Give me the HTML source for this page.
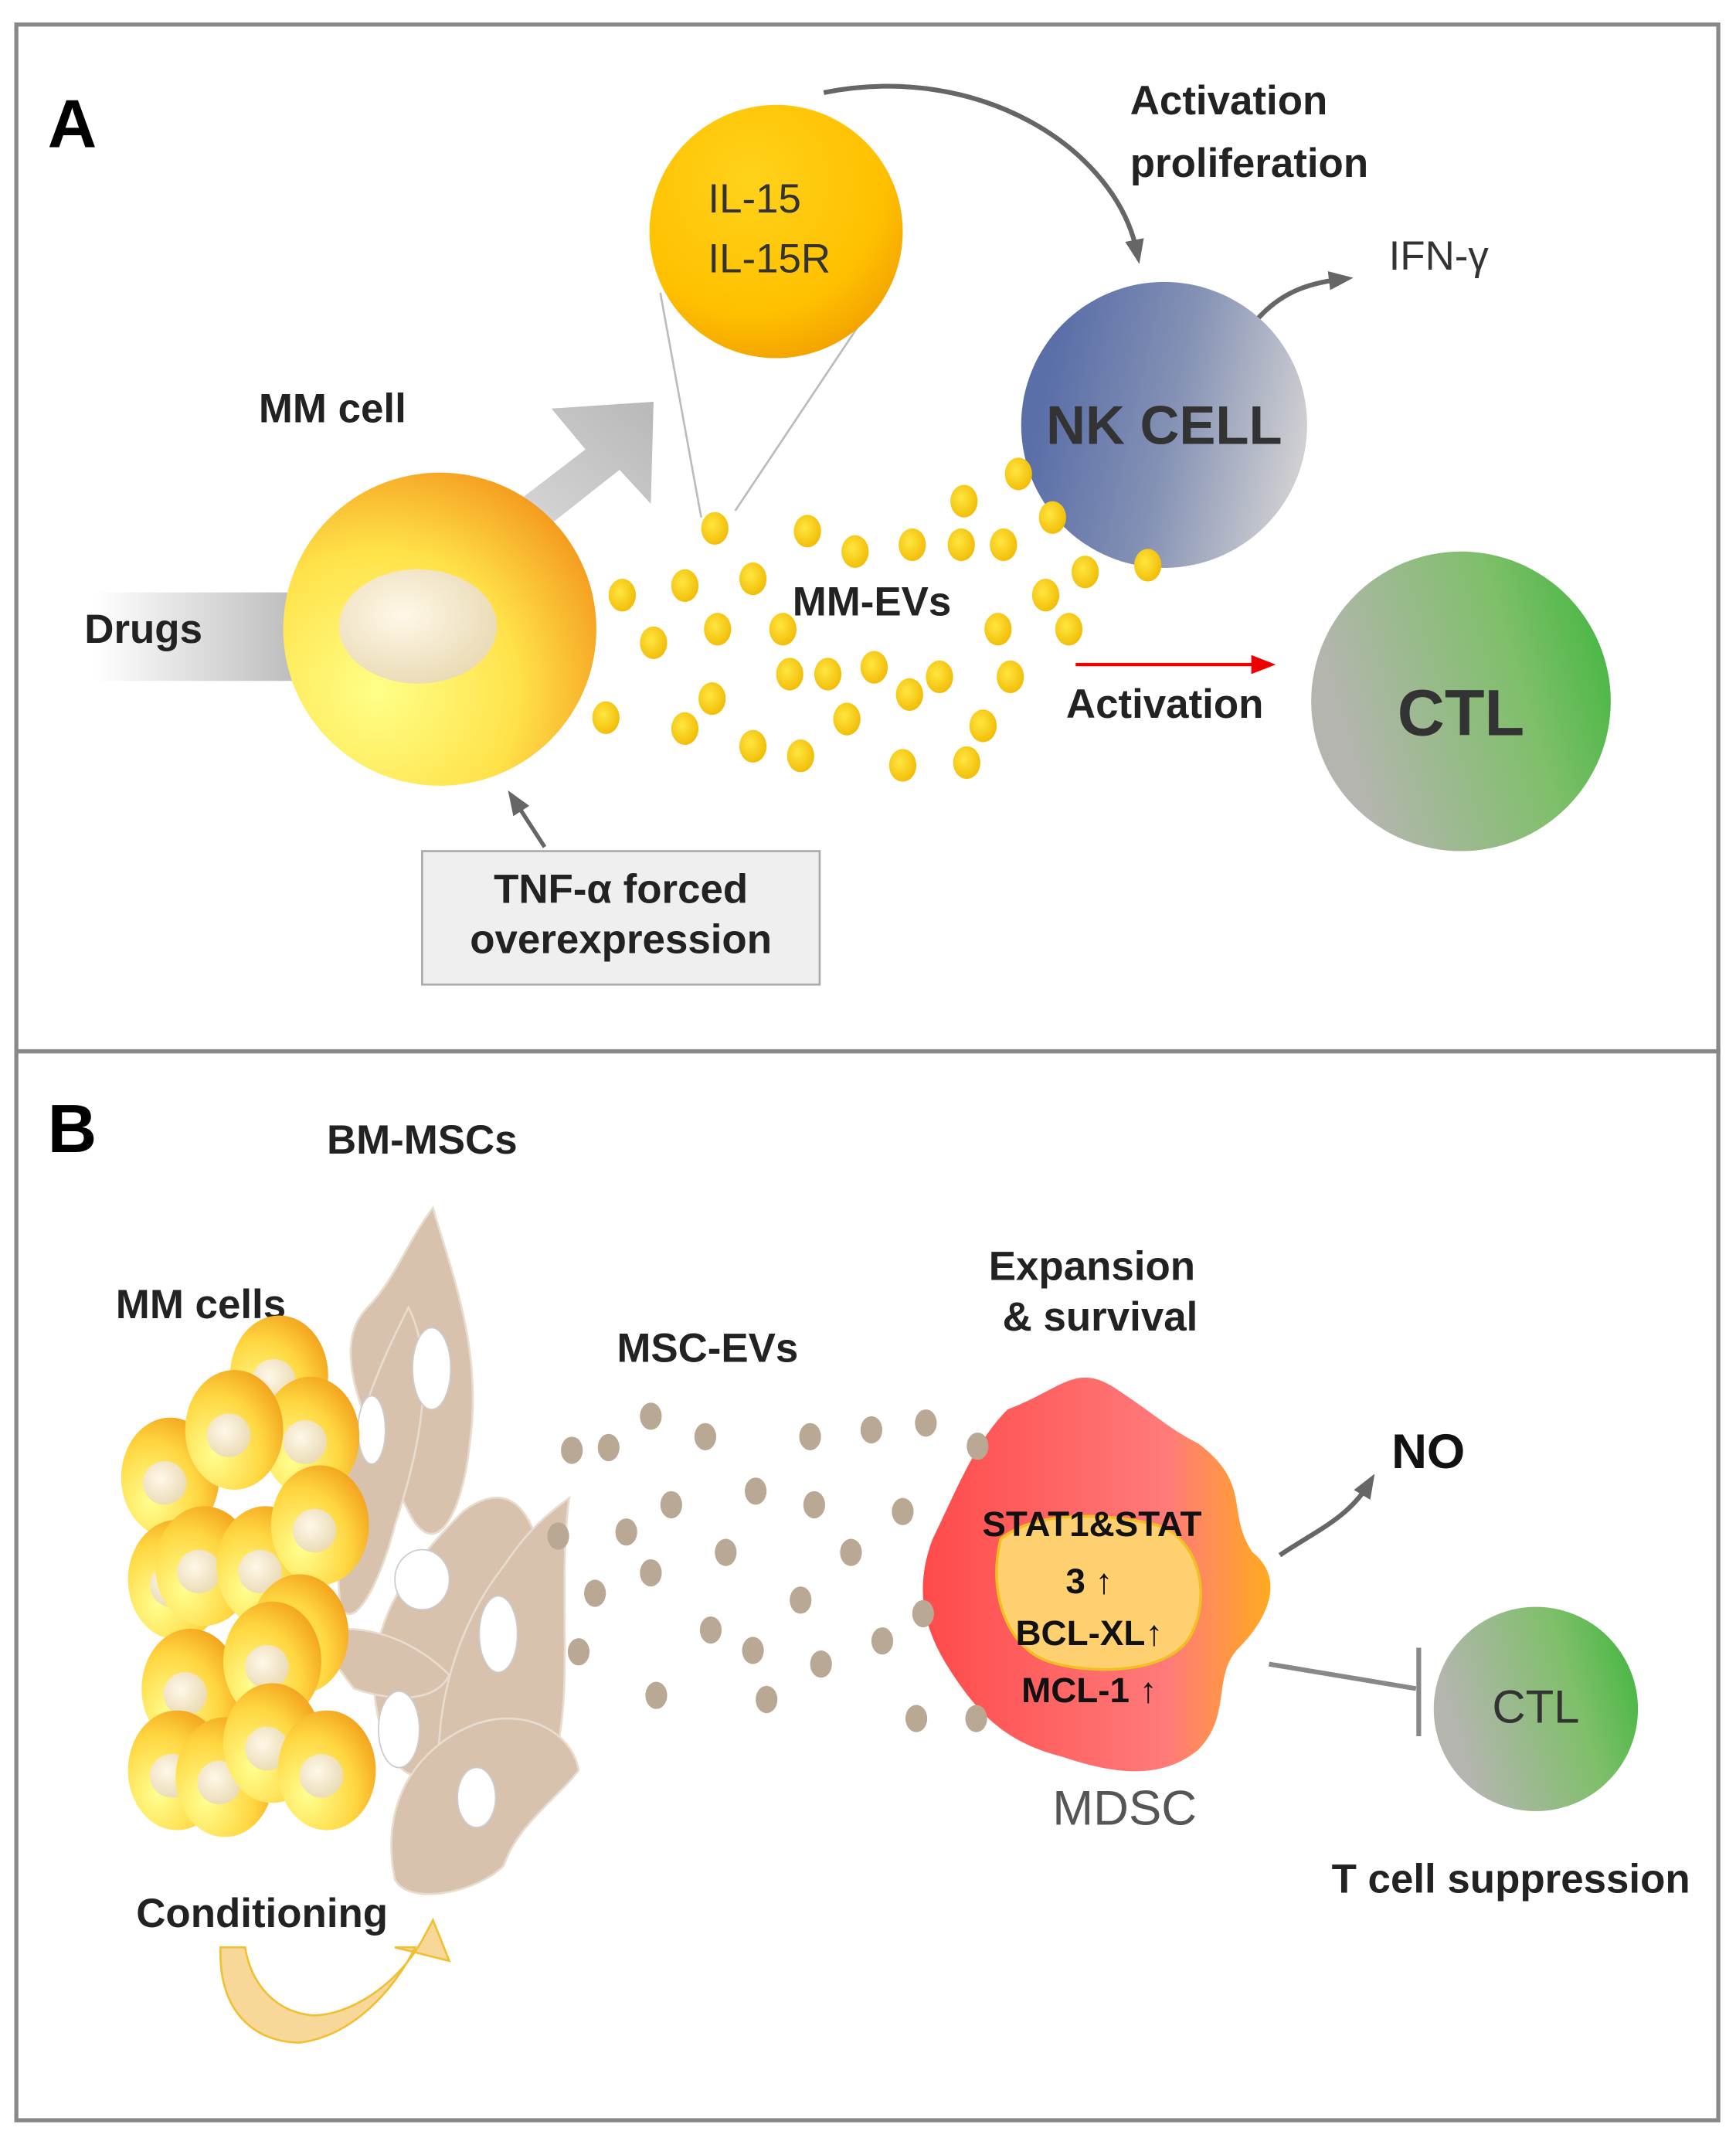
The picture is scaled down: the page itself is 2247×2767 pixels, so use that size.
<!DOCTYPE html>
<html><head><meta charset="utf-8"><style>
html,body{margin:0;padding:0;background:#fff}
svg{display:block}
text{font-family:"Liberation Sans","DejaVu Sans",sans-serif}
</style></head><body>
<svg width="2247" height="2767" viewBox="0 0 1275 1570" xmlns="http://www.w3.org/2000/svg">
<defs>
<radialGradient id="il" cx="0.4" cy="0.3" r="0.75"><stop offset="0" stop-color="#ffd21a"/><stop offset="0.7" stop-color="#ffc000"/><stop offset="1" stop-color="#f2a000"/></radialGradient>
<linearGradient id="nk" x1="0.1" y1="0.3" x2="1" y2="0.5"><stop offset="0" stop-color="#5a6ea8"/><stop offset="0.5" stop-color="#8592b5"/><stop offset="1" stop-color="#cfcfd2"/></linearGradient>
<linearGradient id="ctl" x1="0" y1="0.3" x2="1" y2="0"><stop offset="0" stop-color="#b5b5b0"/><stop offset="0.6" stop-color="#7fbf6a"/><stop offset="1" stop-color="#3ab53a"/></linearGradient>
<radialGradient id="mm" cx="0.3" cy="0.7" r="0.9"><stop offset="0" stop-color="#ffff88"/><stop offset="0.5" stop-color="#ffe24a"/><stop offset="0.85" stop-color="#f5a020"/><stop offset="1" stop-color="#e88a10"/></radialGradient>
<radialGradient id="nuc" cx="0.4" cy="0.4" r="0.7"><stop offset="0" stop-color="#fff8e8"/><stop offset="1" stop-color="#e8d8b0"/></radialGradient>
<linearGradient id="drug" x1="0" x2="1"><stop offset="0" stop-color="#fff"/><stop offset="1" stop-color="#bbb"/></linearGradient>
<linearGradient id="bigarr" x1="0" y1="1" x2="1" y2="0"><stop offset="0" stop-color="#e0e0e0"/><stop offset="1" stop-color="#b8b8b8"/></linearGradient>
<radialGradient id="dot" cx="0.4" cy="0.4" r="0.7"><stop offset="0" stop-color="#ffe640"/><stop offset="1" stop-color="#f0b800"/></radialGradient>
<radialGradient id="cell" cx="0.3" cy="0.7" r="0.9"><stop offset="0" stop-color="#ffff90"/><stop offset="0.55" stop-color="#ffd640"/><stop offset="1" stop-color="#ee9010"/></radialGradient>
<linearGradient id="md" x1="0" x2="1"><stop offset="0" stop-color="#ff4a4a"/><stop offset="0.7" stop-color="#ff7a7a"/><stop offset="1" stop-color="#ffaa20"/></linearGradient>
<marker id="ag2" markerWidth="18" markerHeight="18" refX="9" refY="9" orient="auto" markerUnits="userSpaceOnUse"><path d="M0,2 L18,9 L0,16 z" fill="#666"/></marker>
<marker id="ar" markerWidth="18" markerHeight="18" refX="9" refY="9" orient="auto" markerUnits="userSpaceOnUse"><path d="M0,2 L18,9 L0,16 z" fill="#e00"/></marker>
<g id="mc"><ellipse rx="36" ry="44" fill="url(#cell)"/><circle cx="-4" cy="4" r="16" fill="url(#nuc)"/></g>
</defs>
<rect x="0" y="0" width="1275" height="1570" fill="#fff"/>
<rect x="12" y="18" width="1250" height="754" fill="none" stroke="#888" stroke-width="3"/>
<rect x="12" y="772" width="1250" height="785" fill="none" stroke="#888" stroke-width="3"/>

<!-- Panel A -->
<text x="35" y="108" font-size="50" font-weight="bold">A</text>
<line x1="485" y1="215" x2="515" y2="380" stroke="#bbb" stroke-width="1.5"/>
<line x1="640" y1="225" x2="540" y2="375" stroke="#bbb" stroke-width="1.5"/>
<circle cx="570" cy="170" r="93" fill="url(#il)"/>
<text x="520" y="156" font-size="30" fill="#333">IL-15</text>
<text x="520" y="200" font-size="30" fill="#333">IL-15R</text>
<path d="M605,68 C720,45 820,110 835,185" fill="none" stroke="#666" stroke-width="3.5" marker-end="url(#ag2)"/>
<text x="830" y="84" font-size="30" font-weight="bold" fill="#222">Activation</text>
<text x="830" y="130" font-size="30" font-weight="bold" fill="#222">proliferation</text>
<path d="M922,236 C940,215 960,208 985,205" fill="none" stroke="#666" stroke-width="3.5" marker-end="url(#ag2)"/>
<text x="1020" y="198" font-size="30" fill="#333">IFN-γ</text>
<circle cx="855" cy="312" r="105" fill="url(#nk)"/>
<text x="855" y="326" font-size="40" font-weight="bold" fill="#333" text-anchor="middle">NK CELL</text>
<text x="190" y="310" font-size="30" font-weight="bold" fill="#222">MM cell</text>
<path d="M345,395 L430,330 L405,300 L480,295 L478,370 L455,345 L370,412 z" fill="url(#bigarr)"/>
<rect x="70" y="435" width="150" height="65" fill="url(#drug)"/>
<text x="62" y="472" font-size="30" font-weight="bold" fill="#222">Drugs</text>
<circle cx="323" cy="462" r="115" fill="url(#mm)"/>
<ellipse cx="307" cy="460" rx="58" ry="42" fill="url(#nuc)"/>
<rect x="310" y="625" width="292" height="98" fill="#efefef" stroke="#aaa" stroke-width="1.5"/>
<text x="456" y="663" font-size="30" font-weight="bold" fill="#222" text-anchor="middle">TNF-α forced</text>
<text x="456" y="700" font-size="30" font-weight="bold" fill="#222" text-anchor="middle">overexpression</text>
<line x1="400" y1="622" x2="378" y2="588" stroke="#666" stroke-width="3" marker-end="url(#ag2)"/>
<g fill="url(#dot)">
<ellipse cx="525" cy="388" rx="10" ry="12"/><ellipse cx="593" cy="390" rx="10" ry="12"/><ellipse cx="628" cy="405" rx="10" ry="12"/><ellipse cx="670" cy="400" rx="10" ry="12"/><ellipse cx="708" cy="368" rx="10" ry="12"/><ellipse cx="706" cy="400" rx="10" ry="12"/><ellipse cx="737" cy="400" rx="10" ry="12"/><ellipse cx="748" cy="348" rx="10" ry="12"/><ellipse cx="773" cy="380" rx="10" ry="12"/><ellipse cx="797" cy="420" rx="10" ry="12"/><ellipse cx="843" cy="415" rx="10" ry="12"/><ellipse cx="457" cy="437" rx="10" ry="12"/><ellipse cx="503" cy="430" rx="10" ry="12"/><ellipse cx="553" cy="425" rx="10" ry="12"/><ellipse cx="575" cy="462" rx="10" ry="12"/><ellipse cx="527" cy="462" rx="10" ry="12"/><ellipse cx="480" cy="472" rx="10" ry="12"/><ellipse cx="768" cy="437" rx="10" ry="12"/><ellipse cx="733" cy="462" rx="10" ry="12"/><ellipse cx="785" cy="462" rx="10" ry="12"/><ellipse cx="580" cy="495" rx="10" ry="12"/><ellipse cx="608" cy="495" rx="10" ry="12"/><ellipse cx="642" cy="490" rx="10" ry="12"/><ellipse cx="668" cy="510" rx="10" ry="12"/><ellipse cx="690" cy="497" rx="10" ry="12"/><ellipse cx="742" cy="497" rx="10" ry="12"/><ellipse cx="445" cy="527" rx="10" ry="12"/><ellipse cx="503" cy="535" rx="10" ry="12"/><ellipse cx="523" cy="513" rx="10" ry="12"/><ellipse cx="553" cy="548" rx="10" ry="12"/><ellipse cx="588" cy="555" rx="10" ry="12"/><ellipse cx="622" cy="528" rx="10" ry="12"/><ellipse cx="663" cy="562" rx="10" ry="12"/><ellipse cx="710" cy="560" rx="10" ry="12"/><ellipse cx="722" cy="533" rx="10" ry="12"/>
</g>
<text x="582" y="452" font-size="30" font-weight="bold" fill="#222">MM-EVs</text>
<line x1="790" y1="488" x2="928" y2="488" stroke="#e00" stroke-width="2.5" marker-end="url(#ar)"/>
<text x="783" y="527" font-size="30" font-weight="bold" fill="#222">Activation</text>
<circle cx="1073" cy="515" r="110" fill="url(#ctl)"/>
<text x="1073" y="540" font-size="48" font-weight="bold" fill="#333" text-anchor="middle">CTL</text>

<!-- Panel B -->
<text x="35" y="846" font-size="50" font-weight="bold">B</text>
<text x="240" y="847" font-size="30" font-weight="bold" fill="#222">BM-MSCs</text>
<text x="85" y="968" font-size="30" font-weight="bold" fill="#222">MM cells</text>
<g fill="#d8c2ae" stroke="#e8dccf" stroke-width="1.5">
<path d="M300,1110 C270,1050 240,990 270,960 C290,940 300,910 318,887 C330,930 355,990 345,1060 C340,1110 320,1150 300,1110 z"/>
<path d="M250,1180 C240,1080 280,1000 300,960 C320,1000 310,1060 290,1120 C280,1160 260,1200 250,1180 z"/>
<path d="M280,1270 C260,1200 300,1150 340,1110 C380,1080 400,1120 400,1180 C390,1240 360,1280 320,1300 C300,1310 290,1300 280,1270 z"/>
<path d="M330,1350 C310,1280 330,1200 370,1150 C390,1120 405,1110 418,1100 C410,1160 420,1230 410,1280 C400,1330 370,1370 330,1350 z"/>
<path d="M290,1380 C280,1330 300,1290 340,1270 C380,1250 420,1270 425,1300 C410,1320 380,1340 370,1370 C350,1390 300,1400 290,1380 z"/>
<path d="M230,1200 C260,1190 300,1200 330,1230 C320,1250 290,1250 260,1240 z"/>
</g>
<g fill="#fff" stroke="#ccc">
<ellipse cx="317" cy="1005" rx="14" ry="30"/><ellipse cx="273" cy="1050" rx="10" ry="25"/><ellipse cx="310" cy="1160" rx="20" ry="22"/><ellipse cx="366" cy="1200" rx="14" ry="28"/><ellipse cx="293" cy="1270" rx="15" ry="28"/><ellipse cx="350" cy="1320" rx="14" ry="22"/>
</g>
<use href="#mc" x="205" y="1010"/>
<use href="#mc" x="228" y="1055"/>
<use href="#mc" x="125" y="1085"/>
<use href="#mc" x="172" y="1050"/>
<use href="#mc" x="130" y="1160"/>
<use href="#mc" x="150" y="1150"/>
<use href="#mc" x="195" y="1150"/>
<use href="#mc" x="235" y="1120"/>
<use href="#mc" x="220" y="1200"/>
<use href="#mc" x="140" y="1240"/>
<use href="#mc" x="200" y="1220"/>
<use href="#mc" x="130" y="1300"/>
<use href="#mc" x="165" y="1305"/>
<use href="#mc" x="200" y="1280"/>
<use href="#mc" x="240" y="1300"/>
<text x="100" y="1415" font-size="30" font-weight="bold" fill="#222">Conditioning</text>
<path d="M162,1430 C160,1480 190,1500 220,1500 C260,1495 290,1460 305,1430 L290,1430 L330,1440 L318,1410 L310,1425 C290,1460 255,1480 230,1480 C205,1478 185,1460 180,1430 z" fill="#f8d898" stroke="#f0c030" stroke-width="1.5"/>
<text x="453" y="1000" font-size="30" font-weight="bold" fill="#222">MSC-EVs</text>
<path d="M740,1035 C780,1020 790,1000 820,1020 C850,1040 860,1050 880,1060 C920,1090 900,1110 920,1140 C945,1160 930,1190 910,1210 C890,1230 905,1260 880,1285 C850,1310 810,1300 780,1290 C740,1280 720,1260 700,1230 C680,1200 670,1170 685,1130 C700,1100 715,1060 740,1035 z" fill="url(#md)"/>
<path d="M735,1130 C760,1110 810,1110 850,1120 C880,1130 890,1170 875,1200 C860,1230 800,1230 770,1220 C740,1210 725,1170 735,1130 z" fill="#ffd070" stroke="#f0c020" stroke-width="2"/>
<g fill="#b8a894">
<ellipse cx="420" cy="1065" rx="8" ry="10"/><ellipse cx="447" cy="1063" rx="8" ry="10"/><ellipse cx="478" cy="1040" rx="8" ry="10"/><ellipse cx="518" cy="1055" rx="8" ry="10"/><ellipse cx="595" cy="1055" rx="8" ry="10"/><ellipse cx="640" cy="1050" rx="8" ry="10"/><ellipse cx="680" cy="1045" rx="8" ry="10"/><ellipse cx="718" cy="1062" rx="8" ry="10"/><ellipse cx="410" cy="1128" rx="8" ry="10"/><ellipse cx="460" cy="1125" rx="8" ry="10"/><ellipse cx="493" cy="1105" rx="8" ry="10"/><ellipse cx="555" cy="1095" rx="8" ry="10"/><ellipse cx="598" cy="1105" rx="8" ry="10"/><ellipse cx="625" cy="1140" rx="8" ry="10"/><ellipse cx="663" cy="1110" rx="8" ry="10"/><ellipse cx="437" cy="1170" rx="8" ry="10"/><ellipse cx="478" cy="1155" rx="8" ry="10"/><ellipse cx="533" cy="1140" rx="8" ry="10"/><ellipse cx="588" cy="1175" rx="8" ry="10"/><ellipse cx="425" cy="1213" rx="8" ry="10"/><ellipse cx="522" cy="1197" rx="8" ry="10"/><ellipse cx="553" cy="1212" rx="8" ry="10"/><ellipse cx="603" cy="1222" rx="8" ry="10"/><ellipse cx="648" cy="1205" rx="8" ry="10"/><ellipse cx="678" cy="1185" rx="8" ry="10"/><ellipse cx="482" cy="1245" rx="8" ry="10"/><ellipse cx="563" cy="1248" rx="8" ry="10"/><ellipse cx="673" cy="1262" rx="8" ry="10"/><ellipse cx="717" cy="1262" rx="8" ry="10"/>
</g>
<text x="802" y="940" font-size="30" font-weight="bold" fill="#222" text-anchor="middle">Expansion</text>
<text x="808" y="977" font-size="30" font-weight="bold" fill="#222" text-anchor="middle">&amp; survival</text>
<g font-size="26" font-weight="bold" fill="#111" text-anchor="middle">
<text x="802" y="1128">STAT1&amp;STAT</text>
<text x="800" y="1170">3 ↑</text>
<text x="800" y="1208">BCL-XL↑</text>
<text x="800" y="1250">MCL-1 ↑</text>
</g>
<text x="826" y="1340" font-size="36" fill="#555" text-anchor="middle">MDSC</text>
<path d="M940,1142 C965,1125 990,1115 1005,1090" fill="none" stroke="#666" stroke-width="3.5" marker-end="url(#ag2)"/>
<text x="1022" y="1078" font-size="36" font-weight="bold" fill="#111">NO</text>
<line x1="932" y1="1222" x2="1040" y2="1240" stroke="#888" stroke-width="3.5"/>
<line x1="1042" y1="1210" x2="1042" y2="1275" stroke="#888" stroke-width="3.5"/>
<circle cx="1128" cy="1255" r="75" fill="url(#ctl)"/>
<text x="1128" y="1265" font-size="34" fill="#333" text-anchor="middle">CTL</text>
<text x="978" y="1390" font-size="30" font-weight="bold" fill="#222">T cell suppression</text>
</svg>
</body></html>
